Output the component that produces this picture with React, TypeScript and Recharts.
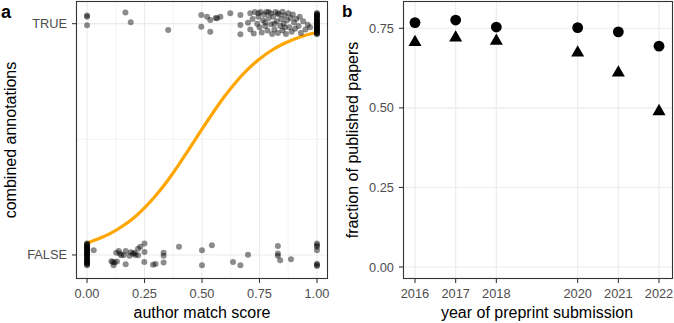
import {
  ComposedChart,
  Line,
  ReferenceLine,
  Scatter,
  XAxis,
  YAxis,
} from "recharts";

const FONT = '"Liberation Sans", Arial, Helvetica, sans-serif';
const TICK_TEXT = "#4D4D4D";
const FRAME = "#333333";
const GRID = "#EBEBEB";
const GRID_MINOR = "#F0F0F0";

// panel a: author match score against combined annotation (FALSE = 0, TRUE = 1, jittered in height)
const scoreTicks = [0, 0.25, 0.5, 0.75, 1];
const scoreMinor = [0.125, 0.375, 0.625, 0.875];
const annotationTicks = [0, 1];
const annotationMinor = [0.5];
const annotationLabels = ["FALSE", "TRUE"];

const annotatedTrue: [number, number][] = [
  [0, 1.035], [0, 1.03], [0, 0.993],
  [0.167, 1.048], [0.19, 1.006], [0.353, 0.973],
  [0.497, 1.038], [0.522, 1.03], [0.536, 1.016], [0.56, 1.025], [0.565, 1.023], [0.58, 1.03],
  [0.623, 1.045], [0.667, 1.038], [0.497, 0.987], [0.536, 0.965], [0.667, 0.994], [0.667, 0.954],
  [0.7, 1.004], [0.71, 1.045], [0.71, 0.975], [0.72, 1.02], [0.725, 0.958], [0.73, 1.05],
  [0.74, 1.0], [0.745, 1.03], [0.75, 0.985], [0.755, 1.05], [0.76, 0.962], [0.765, 1.015],
  [0.77, 1.04], [0.775, 0.99], [0.78, 1.05], [0.785, 0.97], [0.79, 1.025], [0.8, 1.045],
  [0.8, 0.998], [0.805, 0.955], [0.81, 1.03], [0.815, 0.975], [0.82, 1.05], [0.825, 1.01],
  [0.83, 0.96], [0.835, 1.04], [0.84, 0.99], [0.845, 1.02], [0.85, 1.052], [0.85, 0.97],
  [0.855, 1.0], [0.86, 1.035], [0.865, 0.955], [0.87, 1.015], [0.875, 1.045], [0.88, 0.985],
  [0.885, 1.025], [0.89, 0.965], [0.895, 1.04], [0.9, 1.005], [0.905, 0.978], [0.91, 1.02],
  [0.92, 0.99], [0.925, 1.03], [0.93, 0.96], [0.94, 1.01], [0.95, 0.975], [0.96, 0.995],
  [0.97, 0.985], [0.745, 1.045], [0.79, 1.05], [0.83, 1.045], [0.86, 0.985], [0.775, 1.005],
  [0.815, 1.0],
  [1, 0.954], [1, 0.958], [1, 0.962], [1, 0.966], [1, 0.969], [1, 0.973], [1, 0.977],
  [1, 0.98], [1, 0.984], [1, 0.987], [1, 0.991], [1, 0.995], [1, 0.998], [1, 1.002],
  [1, 1.006], [1, 1.009], [1, 1.013], [1, 1.017], [1, 1.02], [1, 1.024], [1, 1.028],
  [1, 1.031], [1, 1.035], [1, 1.039], [1, 1.042], [1, 1.046], [1, 0.96], [1, 0.99],
  [1, 1.01], [1, 1.04], [1, 0.975],
];

const annotatedFalse: [number, number][] = [
  [0, -0.045], [0, -0.041], [0, -0.037], [0, -0.033], [0, -0.03], [0, -0.026], [0, -0.022],
  [0, -0.019], [0, -0.015], [0, -0.012], [0, -0.008], [0, -0.004], [0, -0.001], [0, 0.003],
  [0, 0.007], [0, 0.01], [0, 0.014], [0, 0.018], [0, 0.021], [0, 0.025], [0, 0.029],
  [0, 0.033], [0, 0.036], [0, 0.04], [0, 0.044], [0, 0.047], [0, 0.05], [0, -0.035],
  [0, 0.005], [0, 0.03],
  [0.029, 0.02], [0.106, -0.027], [0.112, -0.03], [0.12, -0.033], [0.115, -0.045],
  [0.127, 0.01], [0.138, 0.017], [0.149, -0.001], [0.168, 0.017], [0.168, -0.04],
  [0.185, -0.004], [0.207, 0.009], [0.222, -0.001], [0.222, 0.027], [0.232, 0.035],
  [0.25, 0.049], [0.25, 0.013], [0.249, -0.03], [0.287, -0.042], [0.298, -0.039],
  [0.333, 0.01], [0.333, -0.004], [0.333, -0.033], [0.4, 0.035], [0.5, 0.02], [0.5, -0.045],
  [0.543, 0.042], [0.635, -0.03], [0.667, -0.045], [0.7, 0.001], [0.83, 0.039], [0.83, 0.006],
  [0.83, -0.004], [0.84, -0.023], [0.887, -0.019], [1, 0.049], [1, 0.042], [1, 0.035],
  [1, 0.02], [1, -0.038], [1, -0.048], [1, -0.044], [0.13, -0.028], [0.143, 0.005],
  [0.16, 0.0], [0.19, 0.012], [0.2, 0.006], [0.21, 0.0],
];

// fitted probability of a TRUE annotation along the score
const logisticFit: [number, number][] = [
  [0, 0.052], [0.05, 0.07], [0.1, 0.092], [0.15, 0.122], [0.2, 0.158], [0.25, 0.204],
  [0.3, 0.258], [0.35, 0.321], [0.4, 0.392], [0.45, 0.467], [0.5, 0.544], [0.55, 0.618],
  [0.6, 0.688], [0.65, 0.75], [0.7, 0.803], [0.75, 0.847], [0.8, 0.883], [0.85, 0.911],
  [0.9, 0.933], [0.95, 0.95], [1, 0.963],
];

// panel b: fraction of preprints that got published, by submission year
const years = [2016, 2017, 2018, 2020, 2021, 2022];
const fractionCircle = [0.768, 0.776, 0.754, 0.752, 0.739, 0.694];
const fractionTriangle = [0.706, 0.72, 0.71, 0.673, 0.61, 0.489];
const fractionTicks = [0, 0.25, 0.5, 0.75];

const toPoints = (rows: [number, number][]) => rows.map(([x, y]) => ({ x, y }));
const trueData = toPoints(annotatedTrue);
const falseData = toPoints(annotatedFalse);
const fitData = toPoints(logisticFit);
const circleData = years.map((x, i) => ({ x, y: fractionCircle[i] }));
const triangleData = years.map((x, i) => ({ x, y: fractionTriangle[i] }));

const SCORE_DOMAIN: [number, number] = [-0.048, 1.048];
const ANNOT_DOMAIN: [number, number] = [-0.104, 1.098];
const YEAR_DOMAIN: [number, number] = [2015.705, 2022.344];
const FRACTION_DOMAIN: [number, number] = [-0.0377, 0.8358];

// layout of the two panels; the frame rectangles are derived from it
const HEIGHT = 323;
const X_AXIS_H = 44;
const PANEL_A = { left: 0, width: 340, yAxisW: 76, margin: { top: 1, right: 12, bottom: 0, left: 0 } };
const PANEL_B = { left: 340, width: 334, yAxisW: 63, margin: { top: 1, right: 1, bottom: 0, left: 0 } };

// half-pixel offset keeps the 1px frame crisp
const frameRect = (p: typeof PANEL_A) => ({
  x: p.left + p.margin.left + p.yAxisW + 0.5,
  y: p.margin.top + 0.5,
  width: p.width - p.margin.left - p.margin.right - p.yAxisW - 1,
  height: HEIGHT - p.margin.top - p.margin.bottom - X_AXIS_H - 1,
});

const tickStyle = { fill: TICK_TEXT, fontSize: 12.8, fontFamily: FONT };
const tickLine = { stroke: FRAME, strokeWidth: 1.07 };

const JitterDot = (p: any) => (
  <circle cx={p.cx} cy={p.cy} r={3} fill="#000" fillOpacity={0.45} stroke="none" />
);

const CircleMark = (p: any) => <circle cx={p.cx} cy={p.cy} r={5.4} fill="#000" />;

const TriangleMark = (p: any) => {
  const s = 13;
  const h = (s * Math.sqrt(3)) / 2;
  const d = `M${p.cx},${p.cy - (2 * h) / 3} L${p.cx - s / 2},${p.cy + h / 3} L${p.cx + s / 2},${p.cy + h / 3} Z`;
  return <path d={d} fill="#000" />;
};

function MatchScorePanel() {
  return (
    <ComposedChart width={PANEL_A.width} height={HEIGHT} margin={PANEL_A.margin}>
      <XAxis
        type="number"
        dataKey="x"
        domain={SCORE_DOMAIN}
        allowDataOverflow
        ticks={scoreTicks}
        interval={0}
        tickFormatter={(v: number) => v.toFixed(2)}
        height={X_AXIS_H}
        axisLine={false}
        tickLine={tickLine}
        tickSize={4}
        tickMargin={6}
        tick={tickStyle}
      />
      <YAxis
        type="number"
        domain={ANNOT_DOMAIN}
        allowDataOverflow
        ticks={annotationTicks}
        interval={0}
        tickFormatter={(v: number) => annotationLabels[v]}
        width={PANEL_A.yAxisW}
        axisLine={false}
        tickLine={tickLine}
        tickSize={4}
        tickMargin={5}
        tick={tickStyle}
      />
      {scoreMinor.map((v) => (
        <ReferenceLine key={`xm${v}`} x={v} stroke={GRID_MINOR} strokeWidth={0.8} />
      ))}
      {annotationMinor.map((v) => (
        <ReferenceLine key={`ym${v}`} y={v} stroke={GRID_MINOR} strokeWidth={0.8} />
      ))}
      {scoreTicks.map((v) => (
        <ReferenceLine key={`x${v}`} x={v} stroke={GRID} strokeWidth={1.1} />
      ))}
      {annotationTicks.map((v) => (
        <ReferenceLine key={`y${v}`} y={v} stroke={GRID} strokeWidth={1.1} />
      ))}
      <Scatter data={falseData} dataKey="y" shape={JitterDot} isAnimationActive={false} />
      <Scatter data={trueData} dataKey="y" shape={JitterDot} isAnimationActive={false} />
      <Line
        data={fitData}
        dataKey="y"
        type="monotone"
        stroke="#FFA500"
        strokeWidth={3.2}
        dot={false}
        activeDot={false}
        isAnimationActive={false}
      />
    </ComposedChart>
  );
}

function PublishedPanel() {
  return (
    <ComposedChart width={PANEL_B.width} height={HEIGHT} margin={PANEL_B.margin}>
      <XAxis
        type="number"
        dataKey="x"
        domain={YEAR_DOMAIN}
        allowDataOverflow
        ticks={years}
        interval={0}
        height={X_AXIS_H}
        axisLine={false}
        tickLine={tickLine}
        tickSize={4}
        tickMargin={6}
        tick={tickStyle}
      />
      <YAxis
        type="number"
        domain={FRACTION_DOMAIN}
        allowDataOverflow
        ticks={fractionTicks}
        interval={0}
        tickFormatter={(v: number) => v.toFixed(2)}
        width={PANEL_B.yAxisW}
        axisLine={false}
        tickLine={tickLine}
        tickSize={4}
        tickMargin={5}
        tick={tickStyle}
      />
      {years.map((v) => (
        <ReferenceLine key={`x${v}`} x={v} stroke={GRID} strokeWidth={1.1} />
      ))}
      {fractionTicks.map((v) => (
        <ReferenceLine key={`y${v}`} y={v} stroke={GRID} strokeWidth={1.1} />
      ))}
      <Scatter data={circleData} dataKey="y" shape={CircleMark} isAnimationActive={false} />
      <Scatter data={triangleData} dataKey="y" shape={TriangleMark} isAnimationActive={false} />
    </ComposedChart>
  );
}

export default function App() {
  const title = { fontFamily: FONT, fontSize: 16, fill: "#000" };
  const frames = [frameRect(PANEL_A), frameRect(PANEL_B)];
  return (
    <div style={{ position: "absolute", left: 0, top: 0, width: 674, height: HEIGHT, background: "#fff" }}>
      <div style={{ position: "absolute", left: PANEL_A.left, top: 0 }}>
        <MatchScorePanel />
      </div>
      <div style={{ position: "absolute", left: PANEL_B.left, top: 0 }}>
        <PublishedPanel />
      </div>
      <svg
        width={674}
        height={HEIGHT}
        style={{ position: "absolute", left: 0, top: 0, pointerEvents: "none" }}
      >
        {frames.map((r, i) => (
          <rect key={i} {...r} fill="none" stroke={FRAME} strokeWidth={1.1} />
        ))}
        <text x={1} y={18} fontFamily={FONT} fontSize={18} fontWeight="bold">
          a
        </text>
        <text x={342} y={17} fontFamily={FONT} fontSize={17} fontWeight="bold">
          b
        </text>
        <text x={202} y={318} textAnchor="middle" {...title}>
          author match score
        </text>
        <text x={537} y={318} textAnchor="middle" {...title}>
          year of preprint submission
        </text>
        <text x={16} y={140} textAnchor="middle" transform="rotate(-90 16 140)" {...title}>
          combined annotations
        </text>
        <text x={358} y={140} textAnchor="middle" transform="rotate(-90 358 140)" {...title}>
          fraction of published papers
        </text>
      </svg>
    </div>
  );
}
